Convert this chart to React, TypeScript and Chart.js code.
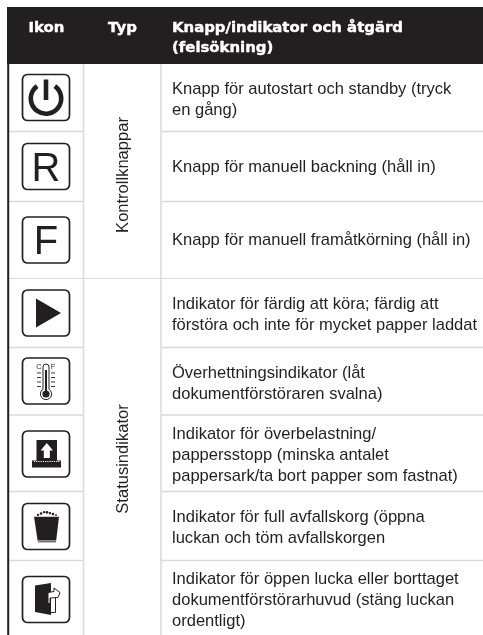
import React, { useEffect, useRef } from "react";
import { Chart, registerables } from "chart.js";

Chart.register(...registerables);

// ---- content ----
const headerLabels = ["Ikon", "Typ"];
const headerAction = ["Knapp/indikator och åtgärd", "(felsökning)"];
const typeLabels = ["Kontrollknappar", "Statusindikator"];
const iconKinds = ["power", "R", "F", "play", "thermo", "overload", "waste", "door"];
const rowLines: string[][] = [
  ["Knapp för autostart och standby (tryck", "en gång)"],
  ["Knapp för manuell backning (håll in)"],
  ["Knapp för manuell framåtkörning (håll in)"],
  ["Indikator för färdig att köra; färdig att", "förstöra och inte för mycket papper laddat"],
  ["Överhettningsindikator (låt", "dokumentförstöraren svalna)"],
  ["Indikator för överbelastning/", "pappersstopp (minska antalet", "pappersark/ta bort papper som fastnat)"],
  ["Indikator för full avfallskorg (öppna", "luckan och töm avfallskorgen"],
  ["Indikator för öppen lucka eller borttaget", "dokumentförstörarhuvud (stäng luckan", "ordentligt)"],
];

// ---- table geometry, in the units of the two linear scales ----
const tableLeft = 7;
const tableRight = 483;
const tableTop = 7;
const headerBottom = 64;
const tableBottom = 635;
const columnEdges = [83.5, 161];
const rowEdges = [131.5, 201.5, 278.5, 347.5, 415, 491.5, 560.5];
const sectionRowIndex = 2;
const iconTops = [74.5, 143.5, 217, 290, 358, 431, 503.5, 576.5];
const firstBaselines = [94, 172, 245, 309, 378, 439, 522, 584];
const lineGap = 21;
const textLeft = 172;
const headerBaselines = [32, 52];
const headerCentres = [46.5, 122.5];
const typeCentreX = 123.5;
const typeCentreY = [175, 459];

const INK = "#231f20";
const RULE = "#d9d9d9";
const BODY_FONT = '16.55px "Liberation Sans"';
const HEAD_FONT = 'bold 14.9px "DejaVu Sans"';

const ICON_W = 47;
const ICON_H = 46;

function drawIcon(ctx: CanvasRenderingContext2D, kind: string, X: (v: number) => number, Y: (v: number) => number, top: number) {
  const cx = 46;
  const cy = top + ICON_H / 2;
  ctx.save();
  ctx.strokeStyle = INK;
  ctx.fillStyle = INK;
  ctx.lineWidth = 1.7;
  ctx.beginPath();
  ctx.roundRect(X(cx - ICON_W / 2), Y(top), ICON_W, ICON_H, 5);
  ctx.stroke();
  if (kind === "power") {
    ctx.lineWidth = 4.6;
    ctx.beginPath();
    ctx.arc(X(cx), Y(cy + 1), 15.2, -Math.PI / 2 + 0.62, -Math.PI / 2 - 0.62);
    ctx.stroke();
    ctx.beginPath();
    ctx.moveTo(X(cx), Y(cy - 18));
    ctx.lineTo(X(cx), Y(cy + 2.5));
    ctx.stroke();
  } else if (kind === "R" || kind === "F") {
    ctx.font = '40px "Liberation Sans"';
    ctx.textAlign = "center";
    ctx.textBaseline = "alphabetic";
    ctx.fillText(kind, X(cx), Y(cy + 14.4));
  } else if (kind === "play") {
    ctx.beginPath();
    ctx.moveTo(X(36), Y(cy - 14.5));
    ctx.lineTo(X(61), Y(cy));
    ctx.lineTo(X(36), Y(cy + 14.5));
    ctx.closePath();
    ctx.fill();
  } else if (kind === "thermo") {
    ctx.lineWidth = 1;
    ctx.beginPath();
    ctx.moveTo(X(43), Y(top + 31));
    ctx.lineTo(X(43), Y(top + 9));
    ctx.arc(X(46), Y(top + 9), 3, Math.PI, 0);
    ctx.lineTo(X(49), Y(top + 31));
    ctx.arc(X(46), Y(top + 36), 5.6, -Math.PI / 2 + 0.56, -Math.PI / 2 - 0.56);
    ctx.closePath();
    ctx.stroke();
    ctx.beginPath();
    ctx.arc(X(46), Y(top + 36), 3.6, 0, Math.PI * 2);
    ctx.fill();
    ctx.fillRect(X(45), Y(top + 12), 2, 24);
    for (const dy of [14.5, 19, 23.5, 28]) {
      ctx.fillRect(X(37), Y(top + dy), 4, 0.9);
      ctx.fillRect(X(51), Y(top + dy), 4, 0.9);
    }
    ctx.font = '7.5px "Liberation Sans"';
    ctx.textAlign = "center";
    ctx.fillText("C", X(39), Y(top + 11));
    ctx.fillText("F", X(53), Y(top + 11));
  } else if (kind === "overload") {
    ctx.fillRect(X(36.5), Y(top + 9), 20.5, 21);
    ctx.fillRect(X(32), Y(top + 29.5), 29, 7);
    ctx.fillStyle = "#fff";
    ctx.beginPath();
    ctx.moveTo(X(46.8), Y(top + 12));
    ctx.lineTo(X(53), Y(top + 19.5));
    ctx.lineTo(X(49.8), Y(top + 19.5));
    ctx.lineTo(X(49.8), Y(top + 27));
    ctx.lineTo(X(43.8), Y(top + 27));
    ctx.lineTo(X(43.8), Y(top + 19.5));
    ctx.lineTo(X(40.6), Y(top + 19.5));
    ctx.closePath();
    ctx.fill();
    ctx.strokeStyle = "#fff";
    ctx.lineWidth = 1;
    ctx.setLineDash([1.2, 1]);
    ctx.beginPath();
    ctx.moveTo(X(34), Y(top + 30.5));
    ctx.lineTo(X(60), Y(top + 30.5));
    ctx.stroke();
    ctx.setLineDash([]);
  } else if (kind === "waste") {
    ctx.beginPath();
    ctx.moveTo(X(34), Y(top + 13));
    ctx.lineTo(X(59), Y(top + 13));
    ctx.lineTo(X(56.2), Y(top + 37));
    ctx.lineTo(X(37.6), Y(top + 37));
    ctx.closePath();
    ctx.fill();
    ctx.lineWidth = 0.9;
    ctx.beginPath();
    ctx.moveTo(X(38), Y(top + 38.3));
    ctx.lineTo(X(56), Y(top + 38.3));
    ctx.stroke();
    for (const [dx, dy, r] of [[38, 11.5, 1.2], [41, 10, 1.3], [44, 8.6, 1.2], [47, 8.8, 1.4], [50, 9.6, 1.2], [53, 10.6, 1.3], [56, 11.8, 1]]) {
      ctx.beginPath();
      ctx.arc(X(dx), Y(top + dy), r, 0, Math.PI * 2);
      ctx.fill();
    }
    ctx.strokeStyle = "#fff";
    ctx.lineWidth = 0.7;
    ctx.beginPath();
    ctx.moveTo(X(34), Y(top + 12.8));
    ctx.lineTo(X(59), Y(top + 12.8));
    ctx.stroke();
  } else if (kind === "door") {
    ctx.beginPath();
    ctx.moveTo(X(35), Y(top + 9));
    ctx.lineTo(X(51), Y(top + 6.5));
    ctx.lineTo(X(51), Y(top + 38.5));
    ctx.lineTo(X(35), Y(top + 35.5));
    ctx.closePath();
    ctx.fill();
    ctx.lineWidth = 1;
    ctx.beginPath();
    ctx.moveTo(X(51), Y(top + 36));
    ctx.lineTo(X(55.5), Y(top + 36));
    ctx.lineTo(X(55.5), Y(top + 20));
    ctx.stroke();
    ctx.fillStyle = "#fff";
    ctx.beginPath();
    ctx.moveTo(X(48), Y(top + 16));
    ctx.lineTo(X(54), Y(top + 15));
    ctx.lineTo(X(54), Y(top + 11.5));
    ctx.lineTo(X(60), Y(top + 16));
    ctx.lineTo(X(58), Y(top + 21));
    ctx.lineTo(X(50), Y(top + 21.5));
    ctx.lineTo(X(50), Y(top + 27));
    ctx.lineTo(X(48), Y(top + 27));
    ctx.closePath();
    ctx.fill();
    ctx.stroke();
  }
  ctx.restore();
}

const tablePlugin = {
  id: "tableCells",
  beforeDatasetsDraw(chart: any) {
    const { ctx, scales } = chart;
    const X = (v: number) => scales.x.getPixelForValue(v);
    const Y = (v: number) => scales.y.getPixelForValue(v);
    ctx.save();
    ctx.fillStyle = INK;
    ctx.fillRect(X(tableLeft), Y(tableTop), X(tableRight) - X(tableLeft), Y(headerBottom) - Y(tableTop));
    ctx.restore();
  },
  afterDatasetsDraw(chart: any) {
    const { ctx, scales } = chart;
    const X = (v: number) => scales.x.getPixelForValue(v);
    const Y = (v: number) => scales.y.getPixelForValue(v);
    ctx.save();
    ctx.textBaseline = "alphabetic";

    ctx.fillStyle = "#ffffff";
    ctx.strokeStyle = "#ffffff";
    ctx.lineWidth = 0.45;
    ctx.lineJoin = "round";
    ctx.font = HEAD_FONT;
    ctx.textAlign = "center";
    headerLabels.forEach((t, i) => {
      ctx.fillText(t, X(headerCentres[i]), Y(headerBaselines[0]));
      ctx.strokeText(t, X(headerCentres[i]), Y(headerBaselines[0]));
    });
    ctx.textAlign = "left";
    headerAction.forEach((t, i) => {
      ctx.fillText(t, X(textLeft), Y(headerBaselines[i]));
      ctx.strokeText(t, X(textLeft), Y(headerBaselines[i]));
    });

    ctx.fillStyle = INK;
    ctx.font = BODY_FONT;
    rowLines.forEach((lines, r) => {
      lines.forEach((t, i) => ctx.fillText(t, X(textLeft), Y(firstBaselines[r] + i * lineGap)));
    });

    typeLabels.forEach((t, i) => {
      ctx.save();
      ctx.translate(X(typeCentreX), Y(typeCentreY[i]));
      ctx.rotate(-Math.PI / 2);
      ctx.textAlign = "center";
      ctx.textBaseline = "middle";
      ctx.fillText(t, 0, 0);
      ctx.restore();
    });

    iconKinds.forEach((k, i) => drawIcon(ctx, k, X, Y, iconTops[i]));
    ctx.restore();
  },
};

function rule(x0: number, y0: number, x1: number, y1: number, color: string, width: number) {
  return {
    data: [{ x: x0, y: y0 }, { x: x1, y: y1 }],
    showLine: true,
    borderColor: color,
    borderWidth: width,
    pointRadius: 0,
    clip: false,
  };
}

export default function App() {
  const ref = useRef<HTMLCanvasElement>(null);
  useEffect(() => {
    // Chart.js paints the first dataset last, so the dark edge goes first.
    const datasets: any[] = [
      rule(tableLeft + 1.2, headerBottom, tableLeft + 1.2, tableBottom, INK, 2),
      ...columnEdges.map((x) => rule(x, headerBottom, x, tableBottom, RULE, 1.5)),
      ...rowEdges.flatMap((y, i) =>
        i === sectionRowIndex
          ? [rule(tableLeft, y, tableRight, y, RULE, 1)]
          : [
              rule(tableLeft, y, columnEdges[0], y, RULE, 1.5),
              rule(columnEdges[1], y, tableRight, y, RULE, 1.5),
            ]
      ),
    ];
    const chart = new Chart(ref.current as HTMLCanvasElement, {
      type: "scatter",
      data: { datasets },
      options: {
        animation: false,
        responsive: false,
        layout: { padding: 0 },
        plugins: { legend: { display: false }, tooltip: { enabled: false }, title: { display: false } },
        scales: {
          x: { type: "linear", min: 0, max: 483, display: false },
          y: { type: "linear", min: 0, max: 635, reverse: true, display: false },
        },
      },
      plugins: [tablePlugin],
    } as any);
    return () => chart.destroy();
  }, []);
  return (
    <div style={{ position: "fixed", left: 0, top: 0, width: 483, height: 635, background: "#fff" }}>
      <canvas ref={ref} width={483} height={635} style={{ display: "block" }} />
    </div>
  );
}
